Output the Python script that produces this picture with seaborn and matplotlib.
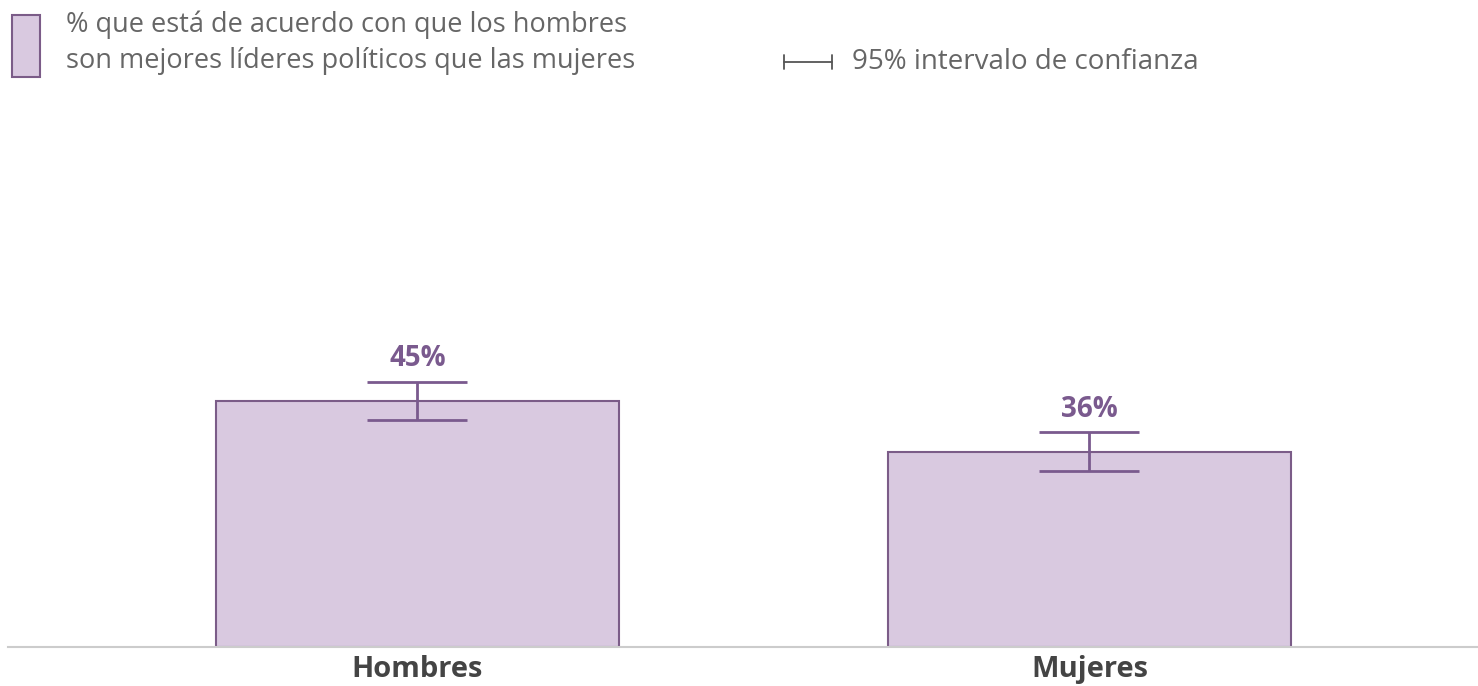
import pandas as pd
import matplotlib.pyplot as plt
import matplotlib.patches as mpatches
import matplotlib.lines as mlines
import seaborn as sns

# datos
grupos = ['Hombres', 'Mujeres']
porcentajes = [45, 35.7]
ic_95 = [3.5, 3.5]
etiquetas = ['45%', '36%']

df = pd.DataFrame({'grupo': grupos, 'pct': porcentajes})

sns.set_style('white')
plt.rcParams['font.family'] = ['Open Sans', 'DejaVu Sans']

relleno = '#d9c9e0'
borde = '#7b5c88'
morado = '#7a5a8e'
gris = '#666666'

fig = plt.figure(figsize=(14.78, 6.86), dpi=100)
ax = fig.add_axes([8 / 1478, 39 / 686, 1470 / 1478, 347 / 686])

sns.barplot(data=df, x='grupo', y='pct', color=relleno, width=0.6,
            edgecolor=borde, linewidth=1.5, errorbar=None, ax=ax)
for b in ax.patches:
    b.set_facecolor(relleno)

ax.errorbar(range(len(grupos)), porcentajes, yerr=ic_95, fmt='none',
            ecolor=morado, elinewidth=2, capsize=36, capthick=2)

for i, (v, e, t) in enumerate(zip(porcentajes, ic_95, etiquetas)):
    ax.text(i, v + e + 1.5, t, ha='center', va='bottom', fontsize=20,
            fontweight='bold', color=morado)

ax.set_xlim(-0.609, 1.578)
ax.set_ylim(0, 63.4)
ax.set_xlabel('')
ax.set_ylabel('')
ax.set_yticks([])
ax.tick_params(axis='x', length=0, pad=6, labelsize=21, labelcolor='#444444')
for lbl in ax.get_xticklabels():
    lbl.set_fontweight('bold')
for s in ['top', 'right', 'left']:
    ax.spines[s].set_visible(False)
ax.spines['bottom'].set_color('#cccccc')
ax.spines['bottom'].set_linewidth(1.5)

# leyenda
fig.patches.append(mpatches.Rectangle((12 / 1478, 1 - 77 / 686), 28 / 1478, 62 / 686,
                                      transform=fig.transFigure, facecolor=relleno,
                                      edgecolor=borde, linewidth=1.5))
fig.text(66 / 1478, 1 - 25 / 686, '% que está de acuerdo con que los hombres',
         fontsize=19.5, color=gris, va='center')
fig.text(66 / 1478, 1 - 61 / 686, 'son mejores líderes políticos que las mujeres',
         fontsize=19.5, color=gris, va='center')
y_ic = 1 - 62 / 686
fig.lines.append(mlines.Line2D([784 / 1478, 832 / 1478], [y_ic, y_ic],
                               transform=fig.transFigure, color='#555555', lw=1.3))
for xx in [784, 832]:
    fig.lines.append(mlines.Line2D([xx / 1478, xx / 1478], [y_ic - 7 / 686, y_ic + 7 / 686],
                                   transform=fig.transFigure, color='#555555', lw=1.3))
fig.text(852 / 1478, y_ic, '95% intervalo de confianza', fontsize=20,
         color=gris, va='center')

fig.savefig('out.png', dpi=100)
